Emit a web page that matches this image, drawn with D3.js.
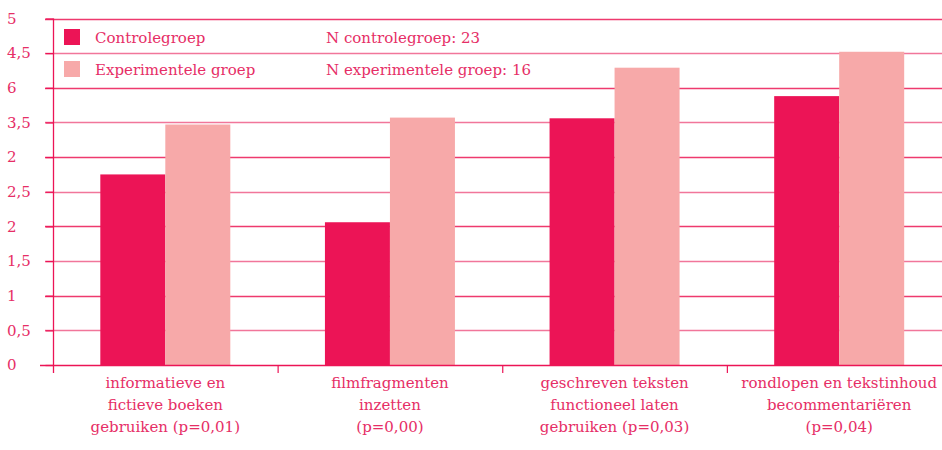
<!DOCTYPE html>
<html>
<head>
<meta charset="utf-8">
<script src="https://cdn.jsdelivr.net/npm/d3@7"></script>
<style>
  html, body { margin: 0; padding: 0; background: #fff; }
  svg { display: block; }
  text { font-family: "DejaVu Serif", serif; fill: #e62e66; }
</style>
</head>
<body>
<div id="chart"></div>
<script>
// categories (x-axis), each one wrapped over several lines
const categories = [
  ['informatieve en', 'fictieve boeken', 'gebruiken (p=0,01)'],
  ['filmfragmenten', 'inzetten', '(p=0,00)'],
  ['geschreven teksten', 'functioneel laten', 'gebruiken (p=0,03)'],
  ['rondlopen en tekstinhoud', 'becommentariëren', '(p=0,04)']
];
const seriesNames = ['Controlegroep', 'Experimentele groep'];
const seriesN = ['N controlegroep: 23', 'N experimentele groep: 16'];
const controle = [2.75, 2.06, 3.56, 3.88];
const experimenteel = [3.47, 3.57, 4.29, 4.52];
// tick labels exactly as printed in the source (incl. its odd 2 and 6)
const tickValues = [0, 0.5, 1, 1.5, 2, 2.5, 3, 3.5, 4, 4.5, 5];
const tickLabels = ['0', '0,5', '1', '1,5', '2', '2,5', '2', '3,5', '6', '4,5', '5'];

const W = 942, H = 450;
const colors = ['#ec1456', '#f7a9a9'];
const gridColor = '#ec4a7a';

const svg = d3.select('#chart').append('svg')
  .attr('width', W).attr('height', H);

const x = d3.scaleBand()
  .domain(d3.range(categories.length))
  .range([53, 951.5]);

const y = d3.scaleLinear().domain([0, 5]).range([365, 18.5]);

const half = 65;
const xs = d3.scaleBand()
  .domain(d3.range(seriesNames.length))
  .range([x.bandwidth() / 2 - half, x.bandwidth() / 2 + half]);

// — gridlines ————————————————————————————————
svg.append('g')
  .selectAll('line')
  .data(tickValues.filter(v => v > 0))
  .join('line')
  .attr('x1', 45).attr('x2', W)
  .attr('y1', d => Math.round(y(d)) + 0.5)
  .attr('y2', d => Math.round(y(d)) + 0.5)
  .attr('stroke', (d, i) => i % 2 ? '#ee3a6e' : '#f1769a')
  .attr('stroke-width', 1.4);

// — bars ——————————————————————————————————————
const data = [controle, experimenteel];
svg.append('g')
  .selectAll('g')
  .data(data)
  .join('g')
  .attr('fill', (d, i) => colors[i])
  .each(function(vals, si) {
    d3.select(this).selectAll('rect')
      .data(vals)
      .join('rect')
      .attr('x', (v, ci) => x(ci) + xs(si))
      .attr('width', xs.bandwidth())
      .attr('y', v => y(v))
      .attr('height', v => y(0) - y(v));
  });

// — y axis ————————————————————————————————————
const yAxis = svg.append('g')
  .attr('transform', 'translate(53.5,0)')
  .call(d3.axisLeft(y)
    .tickValues(tickValues)
    .tickSize(8)
    .tickFormat((d, i) => tickLabels[i]));
yAxis.select('.domain').attr('stroke', '#ec1456').attr('stroke-width', 1.3)
  .attr('d', `M0,${y(5)}V${y(0) + 8}`);
yAxis.selectAll('.tick line').attr('stroke', '#ec1456').attr('stroke-width', 1.3);
yAxis.selectAll('.tick text')
  .attr('x', -46.5)
  .attr('text-anchor', 'start')
  .style('font-family', '"DejaVu Serif", serif')
  .style('font-size', '15px')
  .attr('fill', '#e62e66');

// — x axis ————————————————————————————————————
svg.append('line')
  .attr('x1', 40).attr('x2', W)
  .attr('y1', y(0) + 0.5).attr('y2', y(0) + 0.5)
  .attr('stroke', '#ec1456').attr('stroke-width', 1.4);

svg.append('g')
  .selectAll('line')
  .data(d3.range(1, categories.length))
  .join('line')
  .attr('x1', d => x(d) + 0.5).attr('x2', d => x(d) + 0.5)
  .attr('y1', y(0)).attr('y2', y(0) + 8)
  .attr('stroke', '#ec1456').attr('stroke-width', 1.2);

svg.append('g')
  .selectAll('text')
  .data(categories)
  .join('text')
  .attr('text-anchor', 'middle')
  .style('font-size', '15px')
  .each(function(lines, i) {
    d3.select(this).selectAll('tspan')
      .data(lines)
      .join('tspan')
      .attr('x', x(i) + x.bandwidth() / 2)
      .attr('y', (l, j) => 388 + j * 22)
      .text(l => l);
  });

// — legend ————————————————————————————————————
const legend = svg.append('g');
seriesNames.forEach((name, i) => {
  const cy = 37 + i * 32;
  legend.append('rect')
    .attr('x', 64).attr('y', cy - 8)
    .attr('width', 16).attr('height', 16)
    .attr('fill', colors[i]);
  legend.append('text')
    .attr('x', 95).attr('y', cy + 6)
    .style('font-size', '15px')
    .text(name);
  legend.append('text')
    .attr('x', 326).attr('y', cy + 6)
    .style('font-size', '15px')
    .text(seriesN[i]);
});
</script>
</body>
</html>
